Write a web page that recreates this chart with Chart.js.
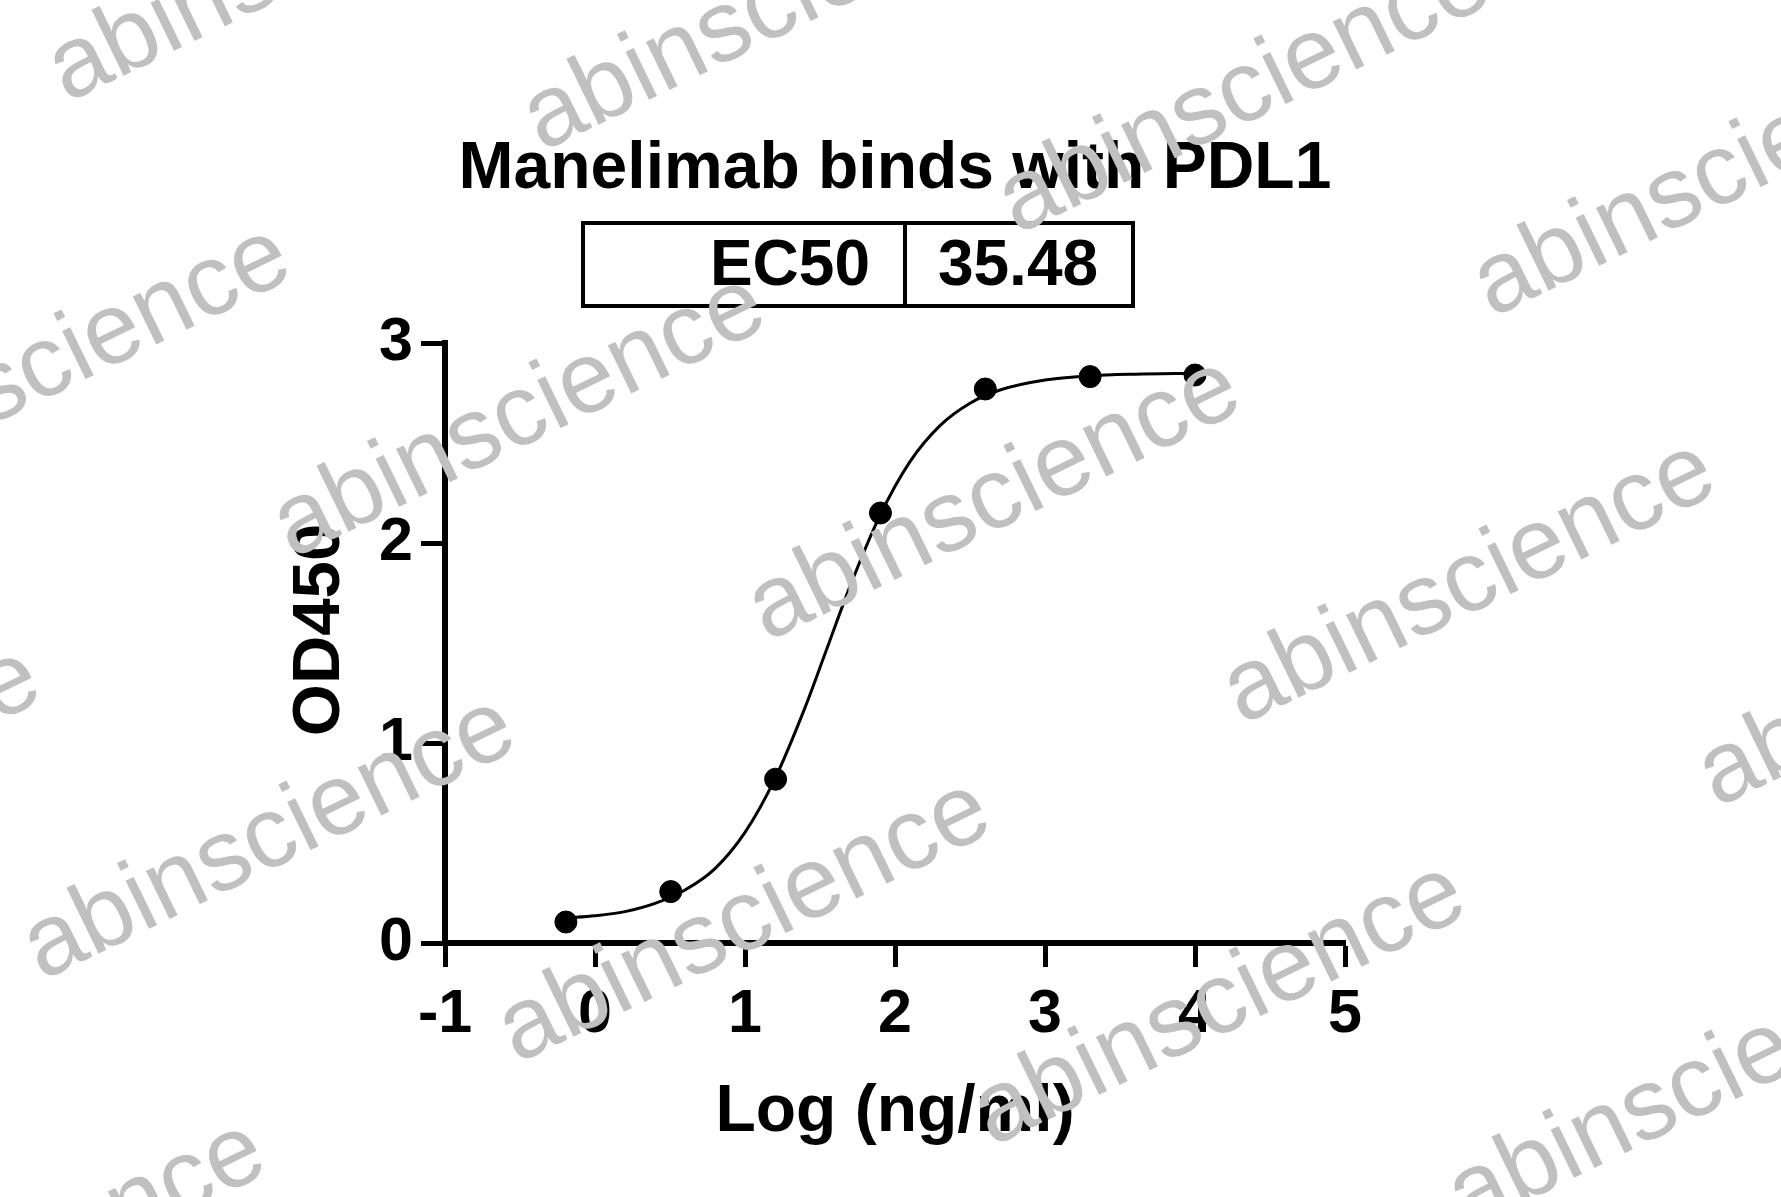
<!DOCTYPE html>
<html lang="en">
<head>
<meta charset="UTF-8" />
<title>Manelimab binds with PDL1</title>
<style>
    * { margin: 0; padding: 0; box-sizing: border-box; }
    body { background: #ffffff; width: 1781px; height: 1197px; overflow: hidden; }
    #wrap { position: relative; width: 1781px; height: 1197px; }
</style>
</head>
<body>
<div id="wrap">
    <canvas id="chart" width="1781" height="1197"></canvas>
</div>
<script src="https://cdn.jsdelivr.net/npm/chart.js"></script>
<script>
    // measured points (log ng/ml vs OD450)
    const logConc = [-0.194, 0.505, 1.204, 1.903, 2.602, 3.301, 4.0];
    const od450 = [0.105, 0.257, 0.819, 2.150, 2.770, 2.832, 2.840];

    // fitted curve
    const curveX = [-0.194, 0, 0.2, 0.4, 0.6, 0.8, 1.0, 1.2, 1.4, 1.55, 1.7, 1.9, 2.1, 2.3, 2.5, 2.7, 3.0, 3.3, 3.6, 4.0];
    const curveY = [0.125, 0.136, 0.157, 0.198, 0.265, 0.372, 0.553, 0.822, 1.177, 1.48, 1.783, 2.138, 2.407, 2.587, 2.699, 2.765, 2.815, 2.836, 2.844, 2.848];

    const xTicks = [-1, 0, 1, 2, 3, 4, 5];
    const yTicks = [0, 1, 2, 3];

    const chartTitle = "Manelimab binds with PDL1";
    const ec50Label = "EC50";
    const ec50Value = "35.48";
    const yTitle = "OD450";
    const xTitle = "Log (ng/ml)";
    const watermark = "abinscience";

    const FONT = "'Liberation Sans', Arial, sans-serif";

    const points = logConc.map((x, i) => ({ x: x, y: od450[i] }));
    const curve = curveX.map((x, i) => ({ x: x, y: curveY[i] }));

    // title, EC50 table, y title and the gray watermarks on top
    const decorations = {
        id: "decorations",
        afterDraw(chart) {
            const ctx = chart.ctx;
            const area = chart.chartArea;
            const cx = (area.left + area.right) / 2;
            ctx.save();
            ctx.fillStyle = "#000";
            ctx.textAlign = "center";
            ctx.textBaseline = "alphabetic";
            ctx.font = "bold 66px " + FONT;
            ctx.fillText(chartTitle, cx, 188);

            // EC50 box
            ctx.lineWidth = 4;
            ctx.strokeStyle = "#000";
            ctx.strokeRect(583, 223, 550, 83);
            ctx.beginPath();
            ctx.moveTo(905, 223);
            ctx.lineTo(905, 306);
            ctx.stroke();
            ctx.font = "bold 64px " + FONT;
            ctx.textAlign = "right";
            ctx.fillText(ec50Label, 870, 285);
            ctx.textAlign = "center";
            ctx.fillText(ec50Value, 1018, 285);

            // y axis title
            ctx.save();
            ctx.translate(321, 630);
            ctx.rotate(-Math.PI / 2);
            ctx.textBaseline = "middle";
            ctx.font = "bold 67px " + FONT;
            ctx.fillText(yTitle, 0, 0);
            ctx.restore();

            // watermark lattice
            ctx.font = "101px " + FONT;
            ctx.fillStyle = "#c0c0c0";
            ctx.textAlign = "left";
            ctx.textBaseline = "alphabetic";
            const ox = 292, oy = 559;
            const a = [475, 83], b = [-250, 407];
            const cells = [[-1, -1], [0, -1], [1, -1], [2, -1],
                [-1, 0], [0, 0], [1, 0], [2, 0], [3, 0],
                [-1, 1], [0, 1], [1, 1], [2, 1], [3, 1],
                [0, 2]];
            cells.forEach(([i, j]) => {
                let px = ox + i * a[0] + j * b[0];
                let py = oy + i * a[1] + j * b[1];
                if (i === -1) py += 34;
                if (j === 1) py += 15;
                if (j === 2) py += 32;
                ctx.save();
                ctx.translate(px, py);
                ctx.rotate(-26 * Math.PI / 180);
                ctx.fillText(watermark, 0, 0);
                ctx.restore();
            });
            ctx.restore();
        }
    };

    new Chart(document.getElementById("chart"), {
        type: "scatter",
        plugins: [decorations],
        data: {
            datasets: [
                {
                    type: "line",
                    data: curve,
                    borderColor: "#000",
                    borderWidth: 3,
                    pointRadius: 0,
                    fill: false,
                    cubicInterpolationMode: "monotone",
                },
                {
                    data: points,
                    backgroundColor: "#000",
                    borderColor: "#000",
                    pointRadius: 11,
                },
            ],
        },
        options: {
            responsive: false,
            animation: false,
            layout: { padding: { left: 0, top: 343, right: 436, bottom: 0 } },
            plugins: {
                legend: { display: false },
                tooltip: { enabled: false },
            },
            scales: {
                x: {
                    type: "linear",
                    min: -1,
                    max: 5,
                    afterFit: (s) => { s.height = 254; },
                    afterBuildTicks: (s) => { s.ticks = xTicks.map(v => ({ value: v })); },
                    border: { display: true, color: "#000", width: 6 },
                    grid: { drawOnChartArea: false, drawTicks: true, tickLength: 24, tickWidth: 5, tickColor: "#000" },
                    ticks: { color: "#000", padding: 12, font: { family: FONT, size: 61, weight: "bold" } },
                    title: {
                        display: true,
                        text: xTitle,
                        color: "#000",
                        font: { family: FONT, size: 66, weight: "bold" },
                        padding: { top: 0, bottom: 45 },
                    },
                },
                y: {
                    type: "linear",
                    min: 0,
                    max: 3,
                    afterFit: (s) => { s.width = 445; },
                    afterBuildTicks: (s) => { s.ticks = yTicks.map(v => ({ value: v })); },
                    border: { display: true, color: "#000", width: 6 },
                    grid: { drawOnChartArea: false, drawTicks: true, tickLength: 24, tickWidth: 5, tickColor: "#000" },
                    ticks: { color: "#000", padding: 8, font: { family: FONT, size: 61, weight: "bold" } },
                    title: { display: false },
                },
            },
        },
    });
</script>
</body>
</html>
